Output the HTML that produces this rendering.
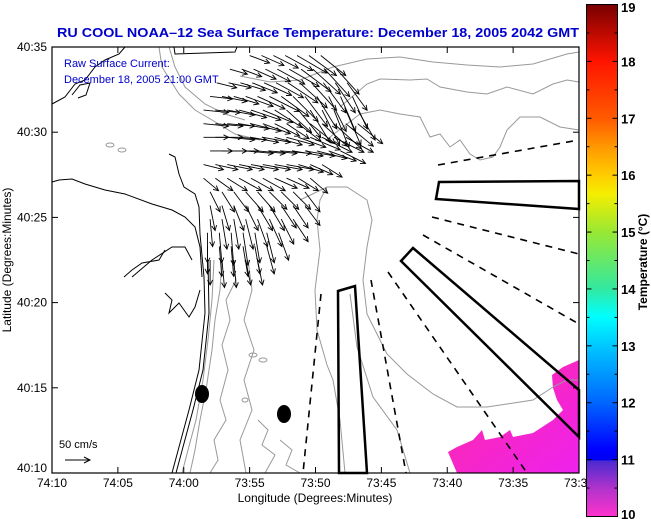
<!DOCTYPE html>
<html><head><meta charset="utf-8"><style>
html,body{margin:0;padding:0;background:#fff;}
svg{display:block;font-family:"Liberation Sans",sans-serif;}
</style></head><body>
<svg id="chart" width="651" height="519" viewBox="0 0 651 519" xmlns="http://www.w3.org/2000/svg">
<defs>
<linearGradient id="cbar" x1="0" y1="0" x2="0" y2="1">
<stop offset="0" stop-color="#780000"/>
<stop offset="0.111" stop-color="#ff1400"/>
<stop offset="0.222" stop-color="#ff5a00"/>
<stop offset="0.28" stop-color="#ff9a00"/>
<stop offset="0.333" stop-color="#ffcc00"/>
<stop offset="0.37" stop-color="#f4ee00"/>
<stop offset="0.444" stop-color="#99e833"/>
<stop offset="0.555" stop-color="#33e8a0"/>
<stop offset="0.61" stop-color="#00ffff"/>
<stop offset="0.666" stop-color="#00c8ff"/>
<stop offset="0.777" stop-color="#0066ff"/>
<stop offset="0.87" stop-color="#0000ff"/>
<stop offset="0.89" stop-color="#0000f0"/>
<stop offset="0.891" stop-color="#4a2ad0"/>
<stop offset="0.945" stop-color="#b033cc"/>
<stop offset="1" stop-color="#ff33cc"/>
</linearGradient>
<linearGradient id="mag" x1="0" y1="0" x2="1" y2="1">
<stop offset="0" stop-color="#ff2aa0"/>
<stop offset="1" stop-color="#ee22ee"/>
</linearGradient>
</defs>
<rect x="0" y="0" width="651" height="519" fill="#fff"/>
<text x="318" y="37" text-anchor="middle" font-size="13" font-weight="bold" fill="#0000cc" textLength="522" lengthAdjust="spacingAndGlyphs">RU COOL  NOAA–12  Sea Surface Temperature:  December 18, 2005 2042 GMT</text>

<g id="map">
<polygon fill="url(#mag)" points="448,452 457,447 473,440 482,430 485,440 500,437 510,430 513,437 533,433 553,420 563,410 557,400 553,388 552,375 563,367 579,360 579,473 457,473"/>
<g fill="none" stroke="#999" stroke-width="1">
<polyline points="240,76 270,82 300,80 333,67 367,59 400,57 433,62 467,65 500,67 533,64 567,54 579,52"/>
<polyline points="340,107 367,84 380,79 410,80 427,79 440,87 467,92 487,94 507,87 533,94 553,84 567,80 579,82"/>
<polyline points="330,137 360,114 380,110 400,114 420,117 430,137 440,134 450,147 460,140 470,154 480,160 493,157 500,147 507,130 520,117 540,117 560,127 579,130"/>
<polyline points="300,200 327,187 347,187 367,200 372,220 367,247 363,280 367,314 387,354 407,374 433,394 457,407 487,407 507,404 533,400 553,387 567,380 579,380"/>
<polyline points="327,187 320,200 317,220 320,250 315,290 317,330 327,365 333,380 340,420 345,473"/>
<polyline points="350,294 357,347 373,397 397,430 410,473"/>
<polyline points="159,47 162,67 179,94 195,110 212,120 235,134 260,140"/>
<polyline points="169,47 175,67 185,87 205,104 225,114 245,120"/>
<polyline points="214,260 212,300 208,340 203,380 196,420 188,450 182,473"/>
<polyline points="222,260 220,290 215,320 212,350 206,390 200,420 195,450 190,473"/>
<polyline points="232,260 236,280 226,300 230,320 222,345 228,370 220,400 226,420 214,440 218,460 210,473"/>
<polyline points="248,260 252,290 244,320 254,350 244,380 252,410 240,440 246,473"/>
<polyline points="258,420 268,430 262,445 275,455 265,473"/>
<polyline points="280,440 292,450 286,465 300,473"/>
<ellipse cx="110" cy="145" rx="4" ry="2"/>
<ellipse cx="122" cy="150" rx="4" ry="2"/>
<ellipse cx="253" cy="355" rx="4" ry="2"/>
<ellipse cx="263" cy="360" rx="4" ry="2"/>
<ellipse cx="245" cy="400" rx="3" ry="2"/>
</g>
<g fill="none" stroke="#000" stroke-width="1">
<polyline points="52,104 65,97 75,84 85,80 95,67 105,60 119,54 125,47"/>
<polyline points="72,95 80,85 90,83 86,95 78,98"/>
<polyline points="174,47 175,54 235,52 237,47"/>
<polyline points="52,182 59,180 72,179 85,184 105,190 125,194 152,204 172,210 185,217 195,227 200,247 202,277"/>
<polyline points="169,154 175,157 179,174 184,187 195,194 199,207 200,234 204,277 205,313 199,370 189,410 179,447 172,473"/>
<polyline points="208,260 209,313 203,370 193,410 183,447 176,473"/>
<polyline points="132,277 152,260 172,247 185,247 192,260"/>
<polyline points="124,277 132,270 142,263 159,260 165,250"/>
<polyline points="165,293 172,300 169,313 179,303 189,317 195,307 200,290"/>
</g>
<g stroke="#000" fill="none">
<polygon stroke-width="2.5" points="439,182 579,181 579,209 436,199"/>
<polygon stroke-width="2.5" points="413,248 579,390 579,437 401,261"/>
<polygon stroke-width="2.5" points="338,291 355,286 367,473 339,473"/>
<g stroke-width="1.6" stroke-dasharray="7,6">
<line x1="438" y1="165" x2="579" y2="140"/>
<line x1="432" y1="217" x2="579" y2="254"/>
<line x1="423" y1="235" x2="579" y2="324"/>
<line x1="388" y1="272" x2="527" y2="473"/>
<line x1="371" y1="280" x2="406" y2="473"/>
<line x1="321" y1="294" x2="303" y2="473"/>
</g>
</g>
<ellipse cx="202" cy="394" rx="7" ry="9" fill="#000"/>
<ellipse cx="284" cy="414" rx="7" ry="9" fill="#000"/>
<g id="arrows" stroke="#000" stroke-width="0.9" fill="none"></g>
</g>

<text x="64" y="67" font-size="11" fill="#0000cc">Raw Surface Current:</text>
<text x="64" y="83" font-size="11" fill="#0000cc">December 18, 2005 21:00 GMT</text>
<text x="59" y="448" font-size="11" fill="#000">50 cm/s</text>
<g stroke="#000" stroke-width="1" fill="none">
<line x1="65" y1="460" x2="90" y2="460"/><polyline points="84,457 90,460 84,463"/></g>

<rect x="52" y="47" width="527" height="426" fill="none" stroke="#000" stroke-width="1.2"/>
<g id="axes" font-size="12" fill="#000"></g>
<text x="315" y="502" text-anchor="middle" font-size="12">Longitude (Degrees:Minutes)</text>
<text transform="translate(11,260) rotate(-90)" text-anchor="middle" font-size="12">Latitude (Degrees:Minutes)</text>

<rect x="586.5" y="4.5" width="31" height="512" fill="url(#cbar)" stroke="#000" stroke-width="1"/>
<g id="cbticks" stroke="#000" stroke-width="1"></g>
<g id="cblabels" font-size="13" font-weight="bold"></g>
<text transform="translate(647,262) rotate(-90)" text-anchor="middle" font-size="12" font-weight="bold">Temperature (°C)</text>
</svg>
<script>
const xTickLabels = ["74:10","74:05","74:00","73:55","73:50","73:45","73:40","73:35","73:30"];
const yTickLabels = ["40:10","40:15","40:20","40:25","40:30","40:35"];
const cbValues = [10,11,12,13,14,15,16,17,18,19];
// arrow rows: latitude minutes (above 40:10), starting longitude minutes (west of 74:10), u and v in cm/s
const rowLat = [24.5,23.7,22.9,22.1,21.3,20.5,19.7,18.9,18.1,17.3,16.5,15.7,14.9,14.1,13.3,12.5];
const rowLon0 = [15,13.5,12.5,12,11.5,11.5,11.5,12,11.5,11.5,12,12,12,11.8,11.8,12];
const rowU = [
[40,45,50,55,60,55,50],
[35,40,45,50,55,60,60,55,50,45],
[40,45,50,50,55,55,60,55,50,45,40,40],
[45,50,50,55,55,60,55,50,45,40,35,30,30],
[50,50,55,55,60,60,55,50,45,40,35,30,30,35],
[50,55,55,60,60,55,50,45,45,50,50,55,55,50],
[50,55,55,55,55,55,55,55,55,60,60,60,55],
[45,50,50,55,55,55,60,60,60,60,55,50],
[40,45,50,50,55,55,55,55,50,45,40],
[30,35,40,45,45,45,45,45,40,35],
[20,25,30,35,35,35,35,35,30],
[10,15,20,25,30,30,30,30,30],
[5,10,10,15,20,25,25,30],
[0,5,5,10,10,15,20],
[0,5,5,10,10,15],
[0,5,5,10,10]];
const rowV = [
[-15,-20,-25,-30,-35,-40,-40],
[-10,-15,-20,-25,-30,-35,-45,-50,-55,-50],
[-10,-10,-15,-20,-25,-30,-40,-50,-55,-60,-60,-55],
[-5,-10,-15,-20,-25,-30,-40,-50,-60,-65,-70,-70,-65],
[-5,-5,-10,-15,-20,-25,-35,-45,-55,-65,-70,-75,-70,-60],
[-5,-5,-5,-10,-15,-20,-25,-30,-35,-40,-45,-50,-45,-40],
[0,0,-5,-5,-10,-10,-15,-15,-20,-25,-30,-30,-30],
[0,0,0,-5,-5,-5,-5,-10,-10,-15,-20,-25],
[-10,-10,-10,-10,-10,-10,-10,-10,-15,-20,-25],
[-25,-25,-25,-25,-25,-25,-20,-20,-25,-30],
[-40,-40,-40,-40,-40,-35,-35,-35,-40],
[-50,-50,-50,-50,-50,-50,-45,-45,-40],
[-55,-60,-60,-60,-55,-55,-50,-45],
[-60,-60,-65,-65,-60,-60,-55],
[-55,-60,-60,-60,-55,-55],
[-50,-55,-55,-50,-50]];
const lonStep = 0.9;

const NS="http://www.w3.org/2000/svg";
const X0=52,X1=579,Y0=473,Y1=47;
function xScale(m){return X0+m*(X1-X0)/40;}
function yScale(m){return Y0-m*(Y0-Y1)/25;}
const pxPerCm=0.5;
function mk(tag,attrs,parent){const e=document.createElementNS(NS,tag);for(const k in attrs)e.setAttribute(k,attrs[k]);parent.appendChild(e);return e;}

const ar=document.getElementById('arrows');
rowLat.forEach((lat,r)=>{
  rowU[r].forEach((u,i)=>{
    const v=rowV[r][i];
    const x=xScale(rowLon0[r]+i*lonStep), y=yScale(lat);
    const dx=u*pxPerCm, dy=-v*pxPerCm;
    const x2=x+dx,y2=y+dy;
    const L=Math.hypot(dx,dy)||1, ux=dx/L, uy=dy/L, h=5;
    const g=mk('g',{},ar);
    
    
    mk('line',{x1:x,y1:y,x2:x2,y2:y2},g);
    mk('polyline',{points:`${x2-h*ux+h*0.5*uy},${y2-h*uy-h*0.5*ux} ${x2},${y2} ${x2-h*ux-h*0.5*uy},${y2-h*uy+h*0.5*ux}`},g);
  });
});

const ax=document.getElementById('axes');
xTickLabels.forEach((t,i)=>{
  const x=xScale(i*5);
  const tk1=mk('line',{x1:x,y1:Y0,x2:x,y2:Y0-6,stroke:'#000'},ax);
  
  
  const tk2=mk('line',{x1:x,y1:Y1,x2:x,y2:Y1+6,stroke:'#000'},ax);
  
  
  const tx=mk('text',{x:x,y:487,'text-anchor':'middle'},ax);
  tx.textContent=t;
  
  
});
yTickLabels.forEach((t,i)=>{
  const y=yScale(i*5);
  const tk1=mk('line',{x1:X0,y1:y,x2:X0+6,y2:y,stroke:'#000'},ax);
  
  
  const tk2=mk('line',{x1:X1,y1:y,x2:X1-6,y2:y,stroke:'#000'},ax);
  
  
  const tx=mk('text',{x:47,y:y+(i===0?-1:4),'text-anchor':'end'},ax);
  tx.textContent=t;
  
  
});

const cbt=document.getElementById('cbticks'), cbl=document.getElementById('cblabels');
function cbY(v){return 516.5-(v-10)*(512/9);}
for(let v=10; v<=19; v+=0.5){
  const y=cbY(v), len=(v%1===0)?5:3;
  const a=mk('line',{x1:586.5,y1:y,x2:586.5+len,y2:y},cbt);
  
  
  const b=mk('line',{x1:617.5,y1:y,x2:617.5-len,y2:y},cbt);
  
  
}
cbValues.forEach(v=>{
  const y=cbY(v);
  const t=mk('text',{x:621,y:Math.max(12,Math.min(y+5,519))},cbl);
  t.textContent=v;
  
  
});
</script>
</body></html>
